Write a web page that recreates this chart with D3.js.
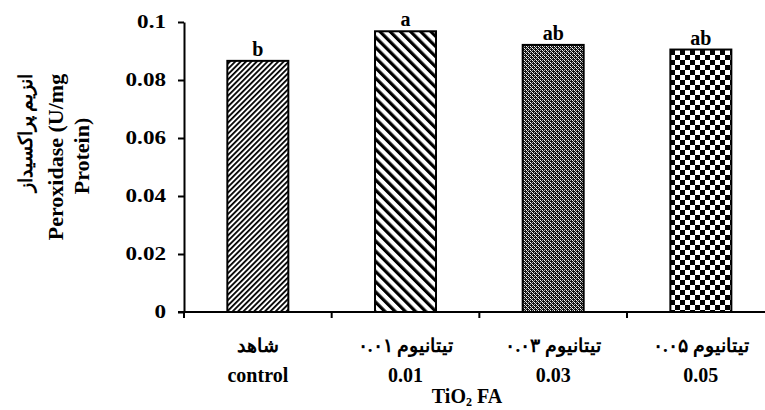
<!DOCTYPE html>
<html><head><meta charset="utf-8">
<script src="https://cdn.jsdelivr.net/npm/d3@7"></script>
<style>
body{margin:0;background:#fff}
svg text{font-family:"Liberation Serif","Times New Roman",serif;font-weight:bold;fill:#000}
</style>
</head><body>
<svg id="c" width="765" height="410"></svg>
<script>
const categoriesFa = ["شاهد", "۰.۰۱ تیتانیوم", "۰.۰۳ تیتانیوم", "۰.۰۵ تیتانیوم"];
const categoriesEn = ["control", "0.01", "0.03", "0.05"];
const values = [0.0866, 0.0968, 0.0921, 0.0905];
const letters = ["b", "a", "ab", "ab"];
const yTicks = [0, 0.02, 0.04, 0.06, 0.08, 0.1];
const yTickLabels = ["0", "0.02", "0.04", "0.06", "0.08", "0.1"];
const yTitleLines = ["انزیم پراکسیداز", "Peroxidase (U/mg", "Protein)"];
const xTitle = "TiO";

const svg = d3.select("#c");
const defs = svg.append("defs");

function stripes(id, angle, size, lw){
  const p = defs.append("pattern").attr("id", id).attr("patternUnits","userSpaceOnUse")
    .attr("width", size).attr("height", size).attr("patternTransform", `rotate(${angle})`);
  p.append("rect").attr("width", size).attr("height", size).attr("fill","#fff");
  p.append("rect").attr("width", lw).attr("height", size).attr("fill","#000");
}
stripes("p0", 45, 3.8, 1.8);
stripes("p1", -45, 7.2, 3.2);
{
  const p = defs.append("pattern").attr("id","p2").attr("patternUnits","userSpaceOnUse").attr("width",4).attr("height",4);
  p.append("rect").attr("width",4).attr("height",4).attr("fill","#111");
  p.append("rect").attr("x",0).attr("y",0).attr("width",1).attr("height",1).attr("fill","#fff");
  p.append("rect").attr("x",2).attr("y",2).attr("width",1).attr("height",1).attr("fill","#fff");
  p.append("rect").attr("x",2).attr("y",0).attr("width",1).attr("height",1).attr("fill","#aaa");
  p.append("rect").attr("x",0).attr("y",2).attr("width",1).attr("height",1).attr("fill","#aaa");
  p.append("rect").attr("x",1).attr("y",1).attr("width",1).attr("height",1).attr("fill","#ccc");
  p.append("rect").attr("x",3).attr("y",3).attr("width",1).attr("height",1).attr("fill","#ccc");
}
{
  const p = defs.append("pattern").attr("id","p3").attr("patternUnits","userSpaceOnUse").attr("width",10).attr("height",10);
  p.append("rect").attr("width",10).attr("height",10).attr("fill","#fff");
  p.append("rect").attr("x",0).attr("y",0).attr("width",5).attr("height",5).attr("fill","#000");
  p.append("rect").attr("x",5).attr("y",5).attr("width",5).attr("height",5).attr("fill","#000");
}
const patternIds = ["p0","p1","p2","p3"];

const x0 = 184, x1 = 774.7, yBottom = 312, yTop = 22;
const x = d3.scaleBand().domain(categoriesEn).range([x0, x1]).padding(0);
const y = d3.scaleLinear().domain([0, 0.1]).range([yBottom, yTop]);
const barW = x.bandwidth() * 0.413;
const cx = c => x(c) + x.bandwidth()/2;

// bars
svg.append("g").selectAll("rect").data(values).join("rect")
  .attr("x", (d,i) => cx(categoriesEn[i]) - barW/2)
  .attr("y", d => y(d))
  .attr("width", barW)
  .attr("height", d => y(0) - y(d))
  .attr("fill", (d,i) => `url(#${patternIds[i]})`)
  .attr("stroke", "#000").attr("stroke-width", 2);

// letters
svg.append("g").selectAll("text").data(values).join("text")
  .attr("x", (d,i) => cx(categoriesEn[i]))
  .attr("y", d => y(d) - 5)
  .attr("text-anchor","middle").attr("font-size", 20)
  .text((d,i) => letters[i]);

// y axis
const sx = 1.25;
const yAxis = svg.append("g").attr("transform", `translate(${x0},0)`)
  .call(d3.axisLeft(y).tickValues(yTicks).tickFormat((d,i) => yTickLabels[i]).tickSize(6).tickSizeOuter(0));
yAxis.select(".domain").attr("stroke","#000").attr("stroke-width",2);
yAxis.selectAll(".tick line").attr("stroke","#000").attr("stroke-width",2);
yAxis.selectAll(".tick text")
  .attr("font-size", 18.5).attr("font-family", null).attr("fill","#000")
  .attr("x", -18 / sx).attr("transform", `scale(${sx},1)`)
  .style("font-family","'Liberation Serif',serif").style("font-weight","bold");

// x axis
svg.append("line").attr("x1", x0 - 6).attr("x2", 765).attr("y1", yBottom).attr("y2", yBottom)
  .attr("stroke","#000").attr("stroke-width",2);
svg.append("g").selectAll("line").data(categoriesEn).join("line")
  .attr("x1", d => x(d)).attr("x2", d => x(d))
  .attr("y1", yBottom).attr("y2", yBottom + 6)
  .attr("stroke","#000").attr("stroke-width",2);

// category labels
svg.append("g").selectAll("text").data(categoriesFa).join("text")
  .attr("x", (d,i) => cx(categoriesEn[i]))
  .attr("y", 352).attr("text-anchor","middle").attr("font-size", 19)
  .text(d => d);
svg.append("g").selectAll("text").data(categoriesEn).join("text")
  .attr("x", d => cx(d))
  .attr("y", 382).attr("text-anchor","middle").attr("font-size", 20)
  .text(d => d);

// x title
const xt = svg.append("text").attr("x", 467).attr("y", 403).attr("text-anchor","middle").attr("font-size", 20);
xt.append("tspan").text(xTitle);
xt.append("tspan").attr("font-size", 12).attr("dy", 3).text("2");
xt.append("tspan").attr("dy", -3).text(" FA");

// y title
const yTitleX = [25, 55, 81];
const yTitleY = [133, 157, 156];
svg.append("g").selectAll("text").data(yTitleLines).join("text")
  .attr("transform", (d,i) => `translate(${yTitleX[i]},${yTitleY[i]}) rotate(-90)`)
  .attr("text-anchor","middle").attr("dominant-baseline","central")
  .attr("font-size", (d,i) => i === 0 ? 19 : 22)
  .text(d => d);
</script>
</body></html>
